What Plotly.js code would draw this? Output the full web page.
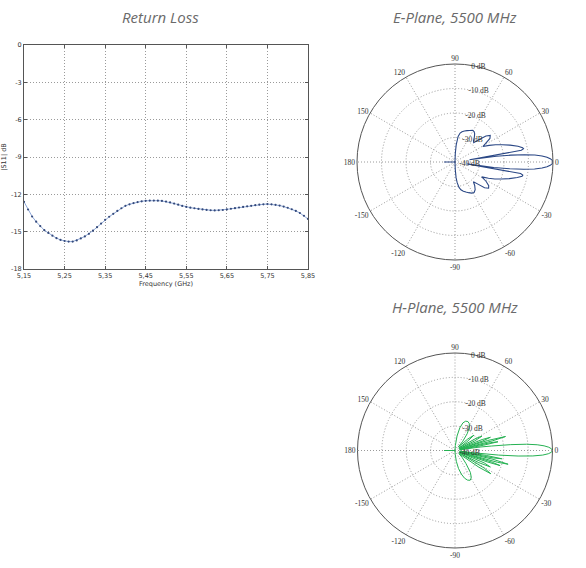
<!DOCTYPE html>
<html>
<head>
<meta charset="utf-8">
<script src="https://cdn.plot.ly/plotly-3.0.1.min.js"></script>
<style>
  html, body { margin: 0; padding: 0; background: #fff; }
  #chart { width: 586px; height: 568px; }
</style>
</head>
<body>
<div id="chart"></div>
<script>
// return loss, |S11| in dB against frequency in GHz
var freqGHz = [5.15,5.16,5.17,5.18,5.19,5.20,5.21,5.22,5.23,5.24,
  5.25,5.26,5.27,5.28,5.29,5.30,5.31,5.32,5.33,5.34,
  5.35,5.36,5.37,5.38,5.39,5.40,5.41,5.42,5.43,5.44,
  5.45,5.46,5.47,5.48,5.49,5.50,5.51,5.52,5.53,5.54,
  5.55,5.56,5.57,5.58,5.59,5.60,5.61,5.62,5.63,5.64,
  5.65,5.66,5.67,5.68,5.69,5.70,5.71,5.72,5.73,5.74,
  5.75,5.76,5.77,5.78,5.79,5.80,5.81,5.82,5.83,5.84,5.85];
var s11dB = [-12.60,-13.22,-13.78,-14.20,-14.55,-14.88,-15.10,-15.32,-15.52,-15.66,
  -15.75,-15.80,-15.80,-15.70,-15.54,-15.38,-15.17,-14.92,-14.64,-14.35,
  -14.05,-13.80,-13.57,-13.33,-13.12,-12.92,-12.80,-12.70,-12.62,-12.56,
  -12.52,-12.50,-12.50,-12.51,-12.53,-12.58,-12.65,-12.74,-12.83,-12.93,
  -13.01,-13.07,-13.12,-13.17,-13.21,-13.25,-13.28,-13.29,-13.28,-13.26,
  -13.21,-13.16,-13.11,-13.06,-13.01,-12.96,-12.92,-12.87,-12.83,-12.80,
  -12.78,-12.80,-12.84,-12.90,-12.98,-13.08,-13.20,-13.33,-13.50,-13.72,-13.98];
var freqTicks = [5.15,5.25,5.35,5.45,5.55,5.65,5.75,5.85];
var s11Ticks = [-18,-15,-12,-9,-6,-3,0];
var s11TickText = ['-18','-15','-12','-9','-6','-3','0'];

// E-plane cut, 5500 MHz (angle in degrees, gain in dB)
var eTheta = [90,88,86,83,80,77,73,69,65,61,58,55,52,49,46,43,40,37,34,31,29,26,23,20,17,14,12,11,10,9,8,7,6,5,4,3,2,1,0,
  -1,-2,-3,-4,-5,-6,-7,-8,-9,-10,-11,-12,-14,-17,-20,-23,-26,-29,-32,-35,-38,-41,-44,-47,-50,-54,-58,-62,-66,-70,-74,-78,-81,-84,-86,-88,-90,
  180,180];
var eGain = [-40,-36.5,-33,-29.5,-28,-27.3,-26.8,-26.3,-25.8,-25.2,-25.3,-26,-27.2,-28.5,-29,-26.5,-23.5,-22,-22.8,-25.5,-27,-24.5,-22,-19.5,-16.5,-13.5,-11.8,-11.5,-12.5,-34,-23,-17,-11.5,-7.3,-4.4,-2.4,-1.1,-0.3,0,
  -0.3,-1.1,-2.4,-4.4,-7.4,-11.8,-17.5,-24,-35,-12.8,-11.8,-12,-13.8,-16.8,-19.8,-22.3,-24.8,-27.5,-25,-23.2,-22.6,-24,-27,-29,-27.5,-26,-25.3,-25.6,-26.3,-27,-27.6,-28.4,-29.5,-31.5,-33.5,-37,-40,
  -40,-35.5];

// H-plane cut, 5500 MHz
var hTheta = [90,86,82,78,74,70,66,62,58,54,50,46,42,39,36,33,30,28,26,24,22,20.5,19,18,17,15.5,14.5,13.5,12.5,11.5,10.5,9,8,7,6,5,4,3,2,1,0,
  -1,-2,-3,-4,-5,-6,-7,-8,-9,-10,-11,-12,-13,-14.5,-15.5,-16.5,-17.5,-18.5,-19.5,-21,-23,-25,-27,-29,-31,-33,-35,-38,-44,-50,-55,-59,-63,-67,-71,-75,-79,-83,-87,-90,
  180,180];
var hGain = [-40,-38,-34,-30.5,-28.2,-27.2,-27,-27.5,-29,-31.5,-35,-38,-33,-30,-34,-38,-30,-27.5,-31,-38,-28,-24.5,-28,-38,-26,-18.5,-24,-38,-25,-22,-28,-38,-30,-25,-17,-10.5,-6.2,-3.4,-1.5,-0.4,0,
  -0.4,-1.7,-4,-8,-14,-22,-32,-38,-27,-20.5,-24,-38,-24,-17.5,-22,-38,-24,-20.5,-26,-38,-27,-24,-29,-38,-26,-22.5,-28,-38,-36,-33,-29,-27,-26.3,-26.8,-28,-30,-32.5,-35.5,-38.5,-40,
  -40,-35.5];

var angTicks = [0,30,60,90,120,150,180,210,240,270,300,330];
var angTickText = ['0','30','60','90','120','150','180','-150','-120','-90','-60','-30'];
var radTicks = [-40,-30,-20,-10,0];
var radTickText = ['-40 dB','-30 dB','-20 dB','-10 dB','0 dB'];

var W = 586, H = 568;
var dotted = '1px,2px';

var traces = [
  {
    type: 'scatter', mode: 'lines+markers',
    x: freqGHz, y: s11dB,
    line: {color: '#8ea8d8', width: 1},
    marker: {color: '#34497a', size: 2.2},
    xaxis: 'x', yaxis: 'y', hoverinfo: 'skip'
  },
  {
    type: 'scatterpolar', mode: 'lines',
    theta: eTheta, r: eGain,
    line: {color: '#2a4785', width: 1.1},
    subplot: 'polar', hoverinfo: 'skip'
  },
  {
    type: 'scatterpolar', mode: 'lines',
    theta: hTheta, r: hGain,
    line: {color: '#25b152', width: 1},
    subplot: 'polar2', hoverinfo: 'skip'
  }
];

function polarAxes(dom) {
  return {
    domain: dom,
    bgcolor: '#fff',
    radialaxis: {
      range: [-40, 0], angle: 83, tickangle: 83, side: 'clockwise',
      tickmode: 'array', tickvals: radTicks, ticktext: radTickText,
      showline: false, ticks: '',
      gridcolor: '#9a9a9a', griddash: dotted, gridwidth: 1,
      tickfont: {family: 'Liberation Serif', size: 7.5, color: '#333'}
    },
    angularaxis: {
      rotation: 0, direction: 'counterclockwise',
      tickmode: 'array', tickvals: angTicks, ticktext: angTickText,
      showline: true, linecolor: '#555', linewidth: 1, ticks: '',
      gridcolor: '#9a9a9a', griddash: dotted, gridwidth: 1,
      tickfont: {family: 'Liberation Serif', size: 7.5, color: '#333'}
    }
  };
}

var titleFont = {family: 'Open Sans', size: 15, color: '#6a6a6a', style: 'italic'};

function title(text, xPx, yPx) {
  return {text: text, x: xPx / W, y: 1 - yPx / H, xref: 'paper', yref: 'paper',
    xanchor: 'center', yanchor: 'middle', showarrow: false, font: titleFont};
}

var layout = {
  width: W, height: H,
  margin: {l: 0, r: 0, t: 0, b: 0},
  paper_bgcolor: '#fff', plot_bgcolor: '#fff',
  separators: ',.',
  showlegend: false,
  xaxis: {
    domain: [24 / W, 308 / W], range: [5.15, 5.85],
    tickmode: 'array', tickvals: freqTicks, tickformat: '.2f',
    showgrid: true, gridcolor: '#9a9a9a', griddash: dotted,
    showline: true, mirror: 'ticks', linecolor: '#555', linewidth: 1,
    ticks: 'inside', ticklen: 3, tickcolor: '#555', zeroline: false,
    tickfont: {family: 'DejaVu Sans', size: 6.5, color: '#333'},
    title: {text: 'Frequency (GHz)', standoff: 2, font: {family: 'DejaVu Sans', size: 6.5, color: '#333'}}
  },
  yaxis: {
    domain: [1 - 269 / H, 1 - 45 / H], range: [-18, 0],
    tickmode: 'array', tickvals: s11Ticks, ticktext: s11TickText,
    showgrid: true, gridcolor: '#9a9a9a', griddash: dotted,
    showline: true, mirror: 'ticks', linecolor: '#555', linewidth: 1,
    ticks: 'inside', ticklen: 3, tickcolor: '#555', zeroline: false,
    tickfont: {family: 'DejaVu Sans', size: 6.5, color: '#333'},
    title: {text: '|S11| dB', standoff: 6, font: {family: 'DejaVu Sans', size: 6.5, color: '#333'}}
  },
  polar: polarAxes({x: [357 / W, 553 / W], y: [1 - 260 / H, 1 - 64 / H]}),
  polar2: polarAxes({x: [357 / W, 553 / W], y: [1 - 548 / H, 1 - 353 / H]}),
  annotations: [
    title('Return Loss', 160, 17),
    title('E-Plane, 5500 MHz', 455, 17),
    title('H-Plane, 5500 MHz', 455, 307)
  ]
};

Plotly.newPlot('chart', traces, layout, {displayModeBar: false, staticPlot: true});
</script>
</body>
</html>
